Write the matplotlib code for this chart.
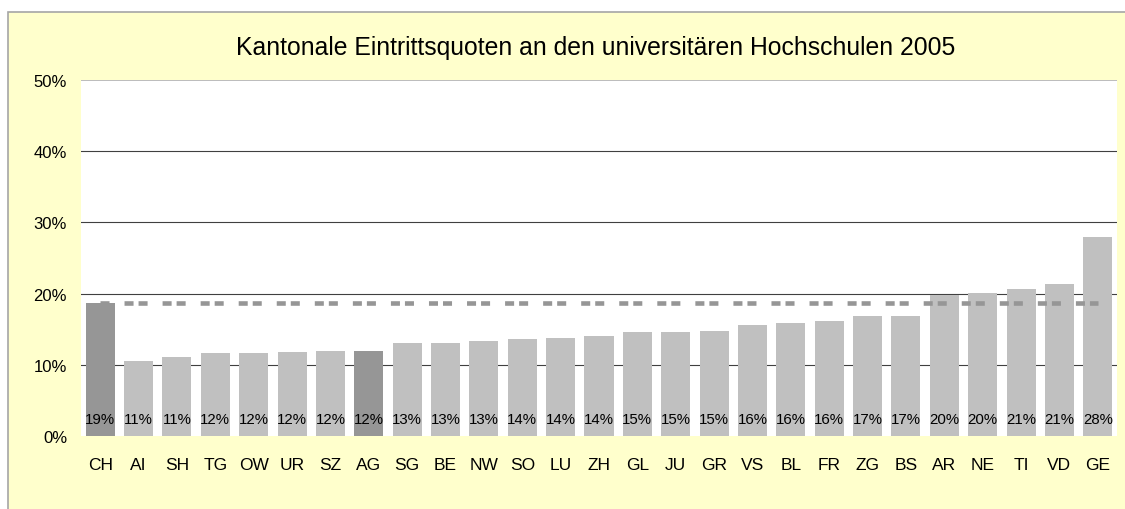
import numpy as np
import matplotlib
matplotlib.use('Agg')
from matplotlib import pyplot as plt
from matplotlib.patches import Rectangle

# Eintrittsquoten 2005 (Anteil in %)
kantone = ['CH', 'AI', 'SH', 'TG', 'OW', 'UR', 'SZ', 'AG', 'SG', 'BE', 'NW', 'SO', 'LU', 'ZH',
           'GL', 'JU', 'GR', 'VS', 'BL', 'FR', 'ZG', 'BS', 'AR', 'NE', 'TI', 'VD', 'GE']
quoten = [18.7, 10.6, 11.1, 11.6, 11.6, 11.8, 11.9, 11.9, 13.1, 13.1, 13.3, 13.6, 13.8, 14.0,
          14.6, 14.6, 14.8, 15.6, 15.9, 16.2, 16.8, 16.8, 19.8, 20.1, 20.6, 21.3, 28.0]
hervorgehoben = ['CH', 'AG']
schnitt_ch = quoten[0]
yticks = [0, 10, 20, 30, 40, 50]

plt.rcParams['font.family'] = ['Liberation Sans', 'DejaVu Sans']
plt.rcParams['lines.scale_dashes'] = False

W, H = 1125, 510
fig = plt.figure(figsize=(W / 100, H / 100), dpi=100, facecolor='white')

# gelber Diagrammbereich mit grauem Rand (rechts/unten ausserhalb des Bildes)
fig.patches.append(Rectangle((8 / W, -0.1), 1.2, 1.1 - 12.5 / H, transform=fig.transFigure,
                             facecolor='#FFFFCC', edgecolor='#A6A6A6', lw=1.2, zorder=-5))

ax = fig.add_axes([81 / W, 73 / H, 1036 / W, 356 / H])
ax.set_zorder(2)
ax.set_facecolor('white')

x = np.arange(len(kantone))
farben = ['#969696' if k in hervorgehoben else '#C0C0C0' for k in kantone]
ax.bar(x, quoten, width=0.756, color=farben, zorder=2)

# Durchschnitt CH als gestrichelte Linie
ax.plot(x, [schnitt_ch] * len(x), color='#969696', lw=3.3,
        linestyle=(0, (6.5, 10.8, 6.5, 3.6)), zorder=3)

for xi, q in zip(x, quoten):
    ax.annotate(f'{q:.0f}%', (xi, 0), xytext=(0, 12.2), textcoords='offset points',
                ha='center', va='center', fontsize=10.8, zorder=4)

for t in yticks[1:-1]:
    ax.axhline(t, color='#404040', lw=0.8, zorder=1)
ax.axhline(50, color='#B0B0B0', lw=1.2, zorder=1)

ax.set_xlim(-0.5, len(x) - 0.5)
ax.set_ylim(0, 50)
ax.set_yticks(yticks)
ax.set_yticklabels([f'{t}%' for t in yticks])
ax.set_xticks(x)
ax.set_xticklabels(kantone)
ax.tick_params(axis='y', length=0, pad=10, labelsize=12)
ax.tick_params(axis='x', length=0, pad=15, labelsize=12.5)
for s in ax.spines.values():
    s.set_visible(False)

fig.text(596 / W, 1 - 48 / H, 'Kantonale Eintrittsquoten an den universitären Hochschulen 2005',
         ha='center', va='center', fontsize=17.8)

fig.savefig('out.png', dpi=100, facecolor=fig.get_facecolor())
